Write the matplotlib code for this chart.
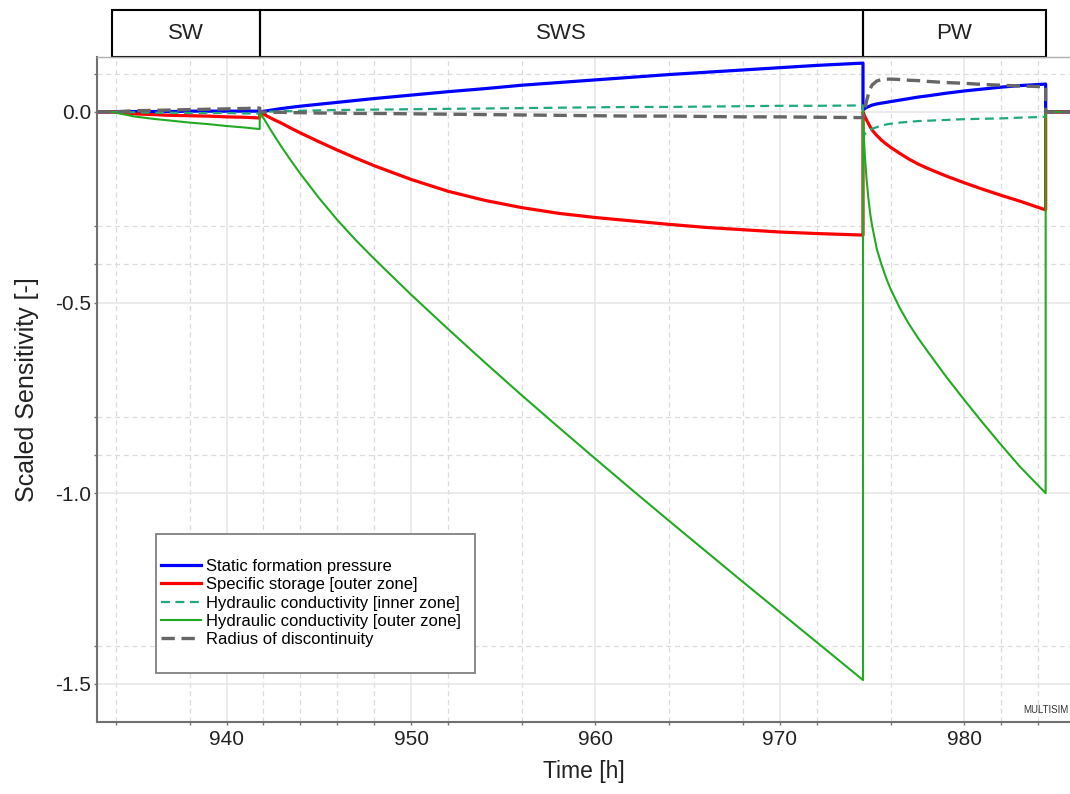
import numpy as np
import matplotlib
matplotlib.use("Agg")
import matplotlib.pyplot as plt
from matplotlib.lines import Line2D
from matplotlib.patches import Rectangle

plt.rcParams['font.family'] = ['Liberation Sans', 'DejaVu Sans']
plt.rcParams['axes.unicode_minus'] = False

# test phases (hours)
phase_names = ["SW", "SWS", "PW"]
phase_bounds = [933.8, 941.8, 974.5, 984.4]

# sample times per phase
t_sw = [933.0, 933.8, 935, 936, 937, 938, 939, 940, 941, 941.8]
t_sws = [941.8, 942.2, 942.6, 943, 943.5, 944, 945, 946, 947, 948, 950, 952, 954,
         956, 958, 960, 962, 964, 966, 968, 970, 972, 974.5]
t_pw = [974.5, 974.55, 974.6, 974.7, 974.8, 974.9, 975, 975.25, 975.5, 975.75, 976,
        976.5, 977, 977.5, 978, 979, 980, 981, 982, 983, 984.4]
t_tail = [984.4, 985.8]

# Static formation pressure
pres_sw = [0, 0, 0.001, 0.001, 0.001, 0.002, 0.002, 0.002, 0.002, 0.002]
pres_sws = [0, 0.003, 0.006, 0.009, 0.012, 0.015, 0.020, 0.025, 0.030, 0.035, 0.044,
            0.053, 0.061, 0.070, 0.077, 0.084, 0.091, 0.098, 0.104, 0.110, 0.116,
            0.122, 0.128]
pres_pw = [0.005, 0.007, 0.009, 0.012, 0.014, 0.016, 0.018, 0.021, 0.023, 0.025,
           0.027, 0.031, 0.035, 0.039, 0.042, 0.049, 0.055, 0.060, 0.065, 0.069, 0.073]

# Specific storage [outer zone]
stor_sw = [0, 0, -0.005, -0.007, -0.009, -0.010, -0.011, -0.013, -0.014, -0.016]
stor_sws = [0, -0.011, -0.021, -0.030, -0.043, -0.055, -0.078, -0.100, -0.121, -0.141,
            -0.177, -0.208, -0.232, -0.251, -0.266, -0.277, -0.286, -0.295, -0.303,
            -0.309, -0.315, -0.319, -0.323]
stor_pw = [0, -0.006, -0.012, -0.022, -0.031, -0.040, -0.048, -0.062, -0.074, -0.084,
           -0.093, -0.109, -0.124, -0.137, -0.148, -0.168, -0.186, -0.203, -0.219,
           -0.234, -0.257]

# Hydraulic conductivity [inner zone]
kin_sw = [0, 0, -0.001, -0.002, -0.002, -0.003, -0.003, -0.003, -0.004, -0.004]
kin_sws = [0, 0.001, 0.001, 0.002, 0.002, 0.003, 0.004, 0.005, 0.0055, 0.006, 0.007,
           0.008, 0.009, 0.010, 0.011, 0.012, 0.013, 0.013, 0.014, 0.015, 0.016,
           0.016, 0.017]
kin_pw = [-0.065, -0.062, -0.058, -0.054, -0.050, -0.047, -0.044, -0.040, -0.036,
          -0.033, -0.031, -0.028, -0.026, -0.024, -0.023, -0.021, -0.019, -0.018,
          -0.017, -0.015, -0.013]

# Hydraulic conductivity [outer zone]
kout_sw = [0, 0, -0.012, -0.018, -0.023, -0.028, -0.032, -0.037, -0.041, -0.045]
kout_sws = [0, -0.032, -0.063, -0.093, -0.128, -0.162, -0.225, -0.283, -0.336, -0.385,
            -0.479, -0.569, -0.657, -0.743, -0.827, -0.910, -0.992, -1.073, -1.153,
            -1.233, -1.312, -1.391, -1.49]
kout_pw = [0, -0.07, -0.115, -0.18, -0.23, -0.27, -0.30, -0.36, -0.40, -0.435, -0.465,
           -0.515, -0.557, -0.594, -0.628, -0.694, -0.756, -0.816, -0.874, -0.930, -1.0]

# Radius of discontinuity
rad_sw = [0, 0, 0.003, 0.004, 0.005, 0.006, 0.007, 0.008, 0.009, 0.010]
rad_sws = [0, -0.001, -0.001, -0.001, -0.002, -0.002, -0.003, -0.003, -0.004, -0.004,
           -0.005, -0.006, -0.007, -0.008, -0.009, -0.010, -0.011, -0.011, -0.012,
           -0.013, -0.013, -0.014, -0.015]
rad_pw = [-0.015, -0.005, 0.008, 0.030, 0.048, 0.062, 0.071, 0.081, 0.085, 0.086,
          0.086, 0.085, 0.083, 0.082, 0.080, 0.077, 0.075, 0.072, 0.070, 0.068, 0.066]

tail = [0, 0]


def join(*parts):
    return np.concatenate([np.asarray(p, dtype=float) for p in parts])


time = join(t_sw, t_sws, t_pw, t_tail)

series = [
    ("Static formation pressure", join(pres_sw, pres_sws, pres_pw, tail),
     dict(color="#0000ff", lw=2.3)),
    ("Specific storage [outer zone]", join(stor_sw, stor_sws, stor_pw, tail),
     dict(color="#ff0000", lw=2.3)),
    ("Hydraulic conductivity [inner zone]", join(kin_sw, kin_sws, kin_pw, tail),
     dict(color="#1fa97c", lw=1.6, ls=(0, (4, 2.5)))),
    ("Hydraulic conductivity [outer zone]", join(kout_sw, kout_sws, kout_pw, tail),
     dict(color="#22aa22", lw=1.5)),
    ("Radius of discontinuity", join(rad_sw, rad_sws, rad_pw, tail),
     dict(color="#666666", lw=2.4, ls=(0, (4, 2)))),
]

fig = plt.figure(figsize=(10.7, 7.94), dpi=100)
ax = fig.add_axes([97 / 1070, 1 - 722 / 794, (1070 - 97) / 1070, (722 - 57) / 794])

for label, values, style in series:
    ax.plot(time, values, label=label, **style)

ax.set_xlim(932.98, 985.72)
ax.set_ylim(-1.60, 0.144)

ax.set_xticks([940, 950, 960, 970, 980])
ax.set_xticks([934, 938, 942, 944, 946, 948, 952, 956, 964, 968, 972, 976, 982, 984], minor=True)
ax.set_yticks([0.0, -0.5, -1.0, -1.5])
ax.set_yticklabels(["0.0", "-0.5", "-1.0", "-1.5"])
ax.set_yticks([0.1, -0.3, -0.4, -0.8, -0.9, -1.4], minor=True)

ax.grid(which="major", color="#e6e6e6", lw=1.1, ls="-")
ax.grid(which="minor", color="#dcdcdc", lw=0.9, ls=(0, (4, 3)))
ax.set_axisbelow(True)

ax.tick_params(which="both", direction="out", length=2, width=1, color="#777777",
               labelsize=15, labelcolor="#222222")
ax.tick_params(axis="x", pad=4)
ax.tick_params(axis="y", pad=2)

for side in ["left", "bottom"]:
    ax.spines[side].set_color("#707070")
    ax.spines[side].set_linewidth(1.5)
ax.spines["top"].set_color("#b0b0b0")
ax.spines["top"].set_linewidth(1.0)
ax.spines["right"].set_visible(False)

ax.set_xlabel("Time [h]", fontsize=16.5, labelpad=8, color="#222222")
ax.set_ylabel("Scaled Sensitivity [-]", fontsize=18, labelpad=12, color="#222222")

# phase header boxes above the plot
trans = ax.get_xaxis_transform()
box_h = 47 / 665
for name, x0, x1 in zip(phase_names, phase_bounds[:-1], phase_bounds[1:]):
    ax.add_patch(Rectangle((x0, 1.0), x1 - x0, box_h, transform=trans, fill=False,
                           edgecolor="black", lw=1.5, clip_on=False))
    ax.text((x0 + x1) / 2, 1.0 + box_h / 2, name, transform=trans, ha="center",
            va="center", fontsize=16, color="#222222")

# legend with its own framed box
ax.add_patch(Rectangle((156 / 1070, 1 - 673 / 794), 319 / 1070, 139 / 794,
                       transform=fig.transFigure, facecolor="white",
                       edgecolor="#808080", lw=1.3, zorder=5, clip_on=False))
handles = [Line2D([], [], **style) for _, _, style in series]
labels = [label for label, _, _ in series]
leg = ax.legend(handles, labels, loc="upper left",
                bbox_to_anchor=(161 / 1070, 1 - 559 / 794), bbox_transform=fig.transFigure,
                frameon=False, fontsize=12, handlelength=2.4, handletextpad=0.3,
                labelspacing=0.2, borderpad=0, borderaxespad=0)
leg.set_zorder(6)

ax.text(0.998, 0.018, "MULTISIM", transform=ax.transAxes, fontsize=7,
        color="#333333", ha="right", va="center")

fig.savefig("out.png", dpi=100)
